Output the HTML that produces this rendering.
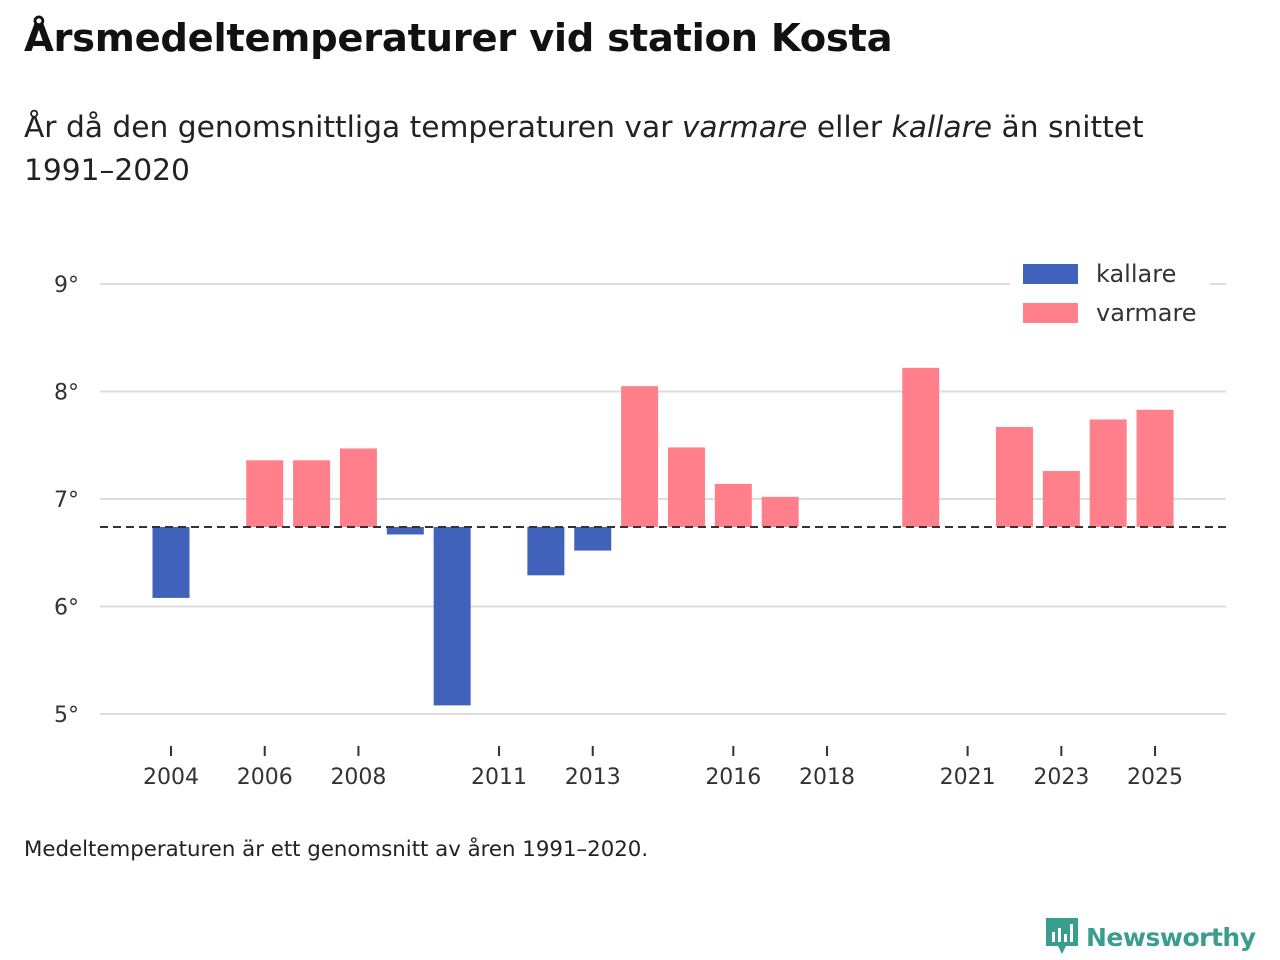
<!DOCTYPE html>
<html><head><meta charset="utf-8"><style>
body{margin:0;width:1280px;height:960px;background:#fff;font-family:"Liberation Sans","DejaVu Sans",sans-serif;overflow:hidden;position:relative}
h1{position:absolute;left:24px;top:16px;margin:0;font-size:38.5px;font-weight:bold;color:#111;font-family:"DejaVu Sans",sans-serif;letter-spacing:-0.3px}
.sub{position:absolute;left:24px;top:106px;margin:0;font-size:29.7px;line-height:43px;color:#222;font-family:"DejaVu Sans",sans-serif;width:1180px}
.note{position:absolute;left:24px;top:837px;font-size:21.3px;color:#222;font-family:"DejaVu Sans",sans-serif}
.logo{position:absolute;left:1044px;top:916px;display:flex;align-items:center;gap:6px;color:#3a9e8f;font-weight:bold;font-size:25px;font-family:"DejaVu Sans",sans-serif;letter-spacing:-0.5px}
</style></head><body>
<h1>Årsmedeltemperaturer vid station Kosta</h1>
<p class="sub">År då den genomsnittliga temperaturen var <i>varmare</i> eller <i>kallare</i> än snittet 1991–2020</p>
<svg id="chart" width="1280" height="960" style="position:absolute;left:0;top:0"></svg>
<div class="note">Medeltemperaturen är ett genomsnitt av åren 1991–2020.</div>
<div class="logo">
<svg width="36" height="42" viewBox="0 0 36 42"><path d="M2 2h32v28H22l-4 8-4-8H2z" fill="#3a9e8f"/><rect x="8" y="16" width="3" height="10" fill="#fff"/><rect x="14" y="12" width="3" height="14" fill="#fff"/><rect x="20" y="18" width="3" height="8" fill="#fff"/><rect x="26" y="8" width="3" height="18" fill="#fff"/></svg>
<span>Newsworthy</span></div>
<script>
const years=[2004,2006,2007,2008,2009,2010,2012,2013,2014,2015,2016,2017,2020,2022,2023,2024,2025];
const temps=[6.08,7.36,7.36,7.47,6.67,5.08,6.29,6.52,8.05,7.48,7.14,7.02,8.22,7.67,7.26,7.74,7.83];
const baseline=6.74;
const yTicks=[5,6,7,8,9];
const xTicks=[2004,2006,2008,2011,2013,2016,2018,2021,2023,2025];
const NS="http://www.w3.org/2000/svg";
const svg=document.getElementById('chart');
const y=v=>714-(v-5)*107.5;
const x=yr=>171+(yr-2004)*46.86;
function mk(t,a){const e=document.createElementNS(NS,t);for(const k in a)e.setAttribute(k,a[k]);svg.appendChild(e);return e;}
yTicks.forEach(v=>{
 const l=mk('line',{x1:100,x2:1226,y1:y(v),y2:y(v),stroke:'#ddd','stroke-width':2});
 
 
 const t=mk('text',{x:54,y:y(v)+8,'font-size':22,fill:'#333','font-family':'DejaVu Sans, sans-serif'});
 t.textContent=v+'°';
 
 
});
years.forEach((yr,i)=>{
 const v=temps[i];const top=Math.min(y(v),y(baseline)),h=Math.abs(y(v)-y(baseline));
 const r=mk('rect',{x:x(yr)-18.5,y:top,width:37,height:h,fill:v<baseline?'#4062bb':'#ff808b'});
 
 
});
const bl=mk('line',{x1:100,x2:1226,y1:y(baseline),y2:y(baseline),stroke:'#333','stroke-width':2,'stroke-dasharray':'8,5'});


xTicks.forEach(yr=>{
 const l=mk('line',{x1:x(yr),x2:x(yr),y1:746,y2:756,stroke:'#333','stroke-width':2});
 
 
 const t=mk('text',{x:x(yr),y:784,'font-size':22,fill:'#333','text-anchor':'middle','font-family':'DejaVu Sans, sans-serif'});
 t.textContent=yr;
 
 
});
const lb=mk('rect',{x:1010,y:258,width:200,height:76,fill:'#fff'});


[['kallare','#4062bb',264],['varmare','#ff808b',303]].forEach(([n,c,yy])=>{
 const r=mk('rect',{x:1023,y:yy,width:55,height:20,fill:c});
 
 
 const t=mk('text',{x:1096,y:yy+18,'font-size':24,fill:'#333','font-family':'DejaVu Sans, sans-serif'});
 t.textContent=n;
 
 
});
</script>
</body></html>
